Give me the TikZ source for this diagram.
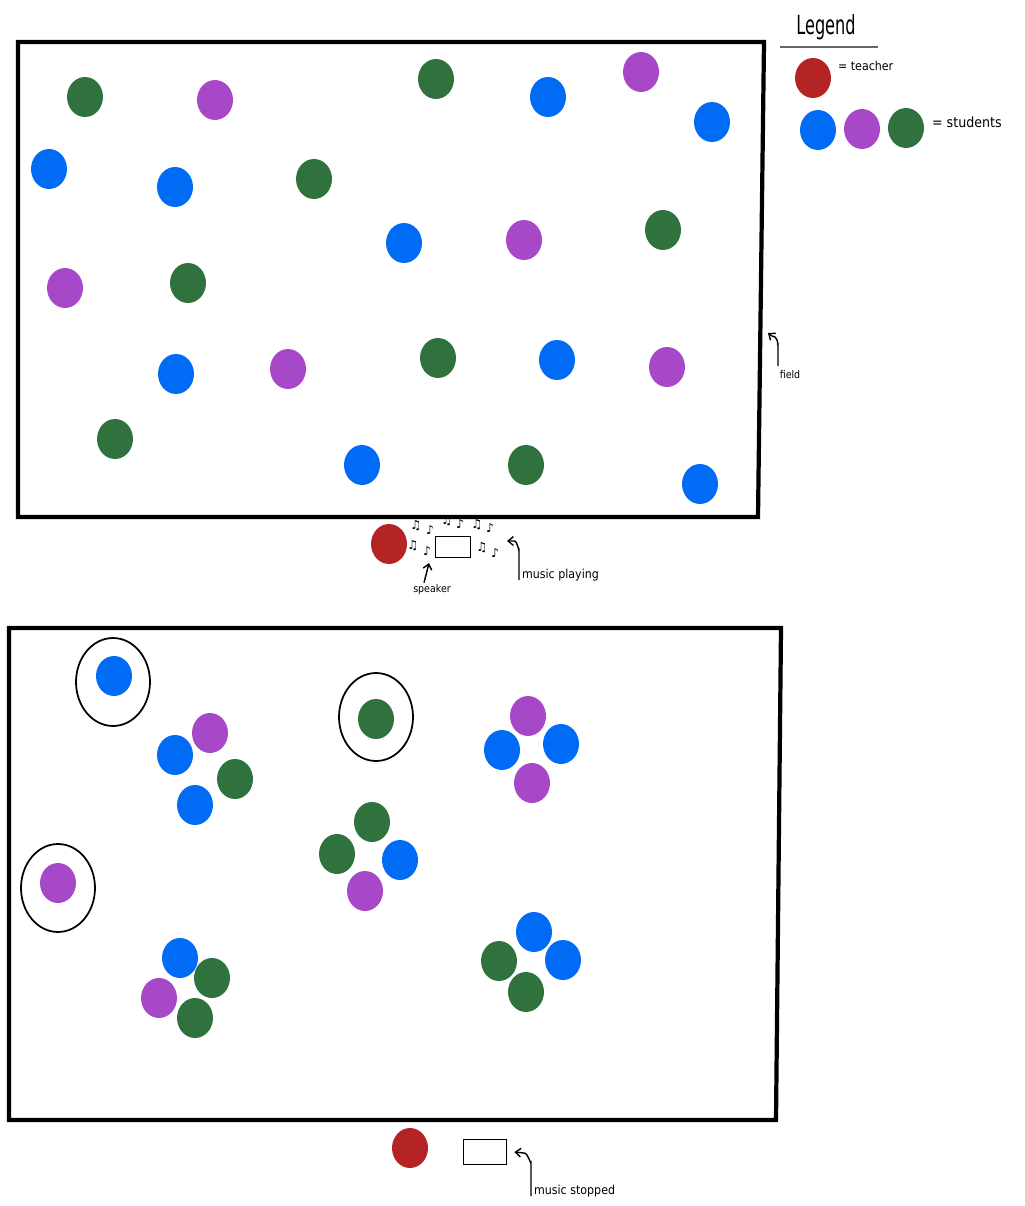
\documentclass[tikz,border=0pt]{standalone}
\usepackage{fontspec}
\setmainfont{DejaVu Sans Condensed}
\newfontfamily\notefont{DejaVu Sans}
\usetikzlibrary{shapes.geometric,arrows.meta}
\definecolor{cblue}{RGB}{0,108,245}
\definecolor{cpurple}{RGB}{166,72,200}
\definecolor{cgreen}{RGB}{48,114,62}
\definecolor{cred}{RGB}{180,36,36}
\tikzset{
  dot/.style={ellipse,inner sep=0pt,minimum width=0.72cm,minimum height=0.8cm,draw=none},
  bd/.style={dot,fill=cblue},
  pd/.style={dot,fill=cpurple},
  gd/.style={dot,fill=cgreen},
  rd/.style={dot,fill=cred},
  fieldline/.style={line width=2.4pt,line join=miter},
  ring/.style={ellipse,draw,line width=1pt,minimum width=1.48cm,minimum height=1.76cm,inner sep=0pt},
  lbl/.style={inner sep=1pt,font=\fontsize{7}{8}\selectfont},
  note/.style={inner sep=0pt,font=\notefont\bfseries\fontsize{7}{7}\selectfont},
  hook/.style={line width=0.8pt,-{Straight Barb[length=3pt,width=5pt]}},
  boxs/.style={draw,line width=1pt,inner sep=0pt}
}
\begin{document}
\begin{tikzpicture}[x=0.02cm,y=-0.02cm]
\useasboundingbox (0,0) rectangle (1024,1206);
% top field
\draw[fieldline] (18,42) -- (764,42) -- (758,517) -- (18,517) -- cycle;
% bottom field
\draw[fieldline] (9,628) -- (781,628) -- (776,1120) -- (9,1120) -- cycle;

% top dots
\node[gd] (t1) at (85,97) {};
\node[pd] (t2) at (215,100) {};
\node[gd] (t3) at (436,79) {};
\node[bd] (t4) at (548,97) {};
\node[pd] (t5) at (641,72) {};
\node[bd] (t6) at (712,122) {};
\node[bd] (t7) at (49,169) {};
\node[bd] (t8) at (175,187) {};
\node[gd] (t9) at (314,179) {};
\node[bd] (t10) at (404,243) {};
\node[pd] (t11) at (524,240) {};
\node[gd] (t12) at (663,230) {};
\node[pd] (t13) at (65,288) {};
\node[gd] (t14) at (188,283) {};
\node[bd] (t15) at (176,374) {};
\node[pd] (t16) at (288,369) {};
\node[gd] (t17) at (438,358) {};
\node[bd] (t18) at (557,360) {};
\node[pd] (t19) at (667,367) {};
\node[gd] (t20) at (115,439) {};
\node[bd] (t21) at (362,465) {};
\node[gd] (t22) at (526,465) {};
\node[bd] (t23) at (700,484) {};

% legend
\node[font=\fontsize{15}{17}\selectfont,inner sep=0pt,xscale=0.68] (leg) at (826,27) {Legend};
\draw[line width=1.2pt,gray!80!black] (780,47) -- (878,47);
\node[rd] (lr) at (813,78) {};
\node[lbl,anchor=west] (lt) at (836,66) {= teacher};
\node[bd] (lb) at (818,130) {};
\node[pd] (lp) at (862,129) {};
\node[gd] (lg) at (906,128) {};
\node[lbl,anchor=west,font=\fontsize{8}{9}\selectfont] (ls) at (930,122) {= students};

% field label
\node[lbl,font=\fontsize{6}{7}\selectfont] (fl) at (790,375) {field};
\coordinate (fe) at (768,333);
\draw[hook] (778,366) -- (778,346) to[out=90,in=0] (772,336) -- (fe);

% teacher and speaker (music playing)
\node[rd] (tr1) at (389,544) {};
\node[boxs,minimum width=0.7cm,minimum height=0.42cm] (sp1) at (453,547) {};
\node[note] (n1) at (416,526) {♫};
\node[note] (n2) at (430,530) {♪};
\node[note] (n3) at (447,521) {♫};
\node[note] (n4) at (460,524) {♪};
\node[note] (n5) at (477,525) {♫};
\node[note] (n6) at (490,528) {♪};
\node[note] (n7) at (413,546) {♫};
\node[note] (n8) at (427,551) {♪};
\node[note] (n9) at (482,548) {♫};
\node[note] (n10) at (495,553) {♪};
\node[lbl,font=\fontsize{6}{7}\selectfont] (spl) at (432,590) {speaker};
\draw[hook] (spl.north) ++(-8,0) -- (429,563);
\node[lbl,anchor=west] (mp) at (520,575) {music playing};
\draw[hook] (519,580) -- (519,550) to[out=-90,in=0] (514,541) -- (507,541);

% bottom dots
\node[ring] (r1) at (113,682) {};
\node[bd] (b1) at (114,676) {};
\node[pd] (b2) at (210,733) {};
\node[bd] (b3) at (175,755) {};
\node[gd] (b4) at (235,779) {};
\node[bd] (b5) at (195,805) {};
\node[ring] (r2) at (376,717) {};
\node[gd] (b6) at (376,719) {};
\node[pd] (b7) at (528,716) {};
\node[bd] (b8) at (502,750) {};
\node[bd] (b9) at (561,744) {};
\node[pd] (b10) at (532,783) {};
\node[gd] (b11) at (372,822) {};
\node[gd] (b12) at (337,854) {};
\node[bd] (b13) at (400,860) {};
\node[pd] (b14) at (365,891) {};
\node[ring] (r3) at (58,888) {};
\node[pd] (b15) at (58,883) {};
\node[bd] (b16) at (180,958) {};
\node[gd] (b17) at (212,978) {};
\node[pd] (b18) at (159,998) {};
\node[gd] (b19) at (195,1018) {};
\node[bd] (b20) at (534,932) {};
\node[gd] (b21) at (499,961) {};
\node[bd] (b22) at (563,960) {};
\node[gd] (b23) at (526,992) {};

% teacher and speaker (music stopped)
\node[rd] (tr2) at (410,1148) {};
\node[boxs,minimum width=0.86cm,minimum height=0.5cm] (sp2) at (485,1152) {};
\node[lbl,anchor=west] (ms) at (532,1191) {music stopped};
\draw[hook] (531,1196) -- (531,1162) to[out=-90,in=0] (524,1153) -- ([xshift=4pt]sp2.east);
\end{tikzpicture}
\end{document}
